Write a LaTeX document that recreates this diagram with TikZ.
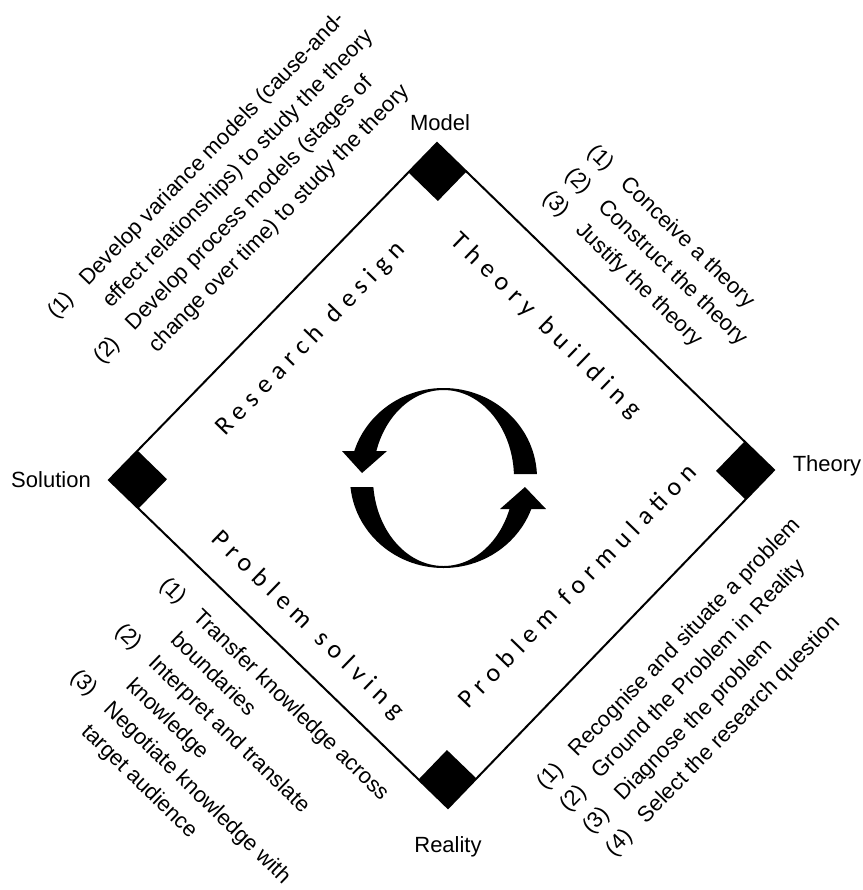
\documentclass[tikz,border=0pt]{standalone}
\usepackage{fontspec}
\setmainfont{Liberation Sans}
\newfontfamily\phasefont[LetterSpace=26]{Carlito}
\usetikzlibrary{calc}
\tikzset{
  cyc/edge/.style={line width=1pt, draw=black},
  cyc/corner/.style={font=\fontsize{11}{13}\selectfont, inner sep=0pt},
  cyc/phase/.style={font=\phasefont\fontsize{13}{15}\selectfont, inner sep=0pt},
  cyc/list/.style={font=\fontsize{11}{16}\selectfont, inner sep=0pt, anchor=base west}
}
\newcommand{\itm}[1]{\makebox[23pt][l]{(#1)}}
\newcommand{\cont}{\hspace*{23pt}}
\newcommand{\wgap}{\hspace{7pt}}

\begin{document}
\begin{tikzpicture}[x=0.5pt,y=-0.5pt]
  \useasboundingbox (0,0) rectangle (863,890);
  \coordinate (M) at (437,143);
  \coordinate (T) at (774,470);
  \coordinate (R) at (448,808);
  \coordinate (S) at (109,480);
  \coordinate (O) at (442,475.5);
  \draw[cyc/edge] (M) -- (T) -- (R) -- (S) -- cycle;
  \foreach \c/\p/\q in {M/S/T, T/M/R, R/T/S, S/R/M}
    \fill ($(\c)!20.5pt!(\p)$) -- (\c) -- ($(\c)!20.5pt!(\q)$) -- ($(\c)!29pt!(O)$) -- cycle;

  \node[cyc/corner] (model) at (440,123) {Model};
  \node[cyc/corner] (theory) at (827,466) {Theory};
  \node[cyc/corner] (reality) at (448,847) {Reality};
  \node[cyc/corner] (solution) at (51,480) {Solution};

  \node[cyc/phase,rotate=45.9] (design) at (311,339) {Research\wgap design};
  \node[cyc/phase,rotate=-44.1] (building) at (545.5,326) {Theory\wgap building};
  \node[cyc/phase,rotate=-44.1] (solving) at (307.5,625) {Problem\wgap solving};
  \node[cyc/phase,rotate=45.9] (formulation) at (577,585.5) {Problem\wgap formulation};

  \node[cyc/list,rotate=45.9] (designlist) at (56,320) {\begin{tabular}[t]{@{}l@{}}
    \itm{1}Develop variance models (cause-and-\\
    \cont effect relationships) to study the theory\\
    \itm{2}Develop process models (stages of\\
    \cont change over time) to study the theory
  \end{tabular}};
  \node[cyc/list,rotate=-44.1] (buildinglist) at (586,153) {\begin{tabular}[t]{@{}l@{}}
    \itm{1}Conceive a theory\\
    \itm{2}Construct the theory\\
    \itm{3}Justify the theory
  \end{tabular}};
  \node[cyc/list,rotate=-44.1] (solvinglist) at (158.5,586) {\begin{tabular}[t]{@{}l@{}}
    \itm{1}Transfer knowledge across\\
    \cont boundaries\\
    \itm{2}Interpret and translate\\
    \cont knowledge\\
    \itm{3}Negotiate knowledge with\\
    \cont target audience
  \end{tabular}};
  \node[cyc/list,rotate=45.9] (formulationlist) at (545.5,790.5) {\begin{tabular}[t]{@{}l@{}}
    \itm{1}Recognise and situate a problem\\
    \itm{2}Ground the Problem in Reality\\
    \itm{3}Diagnose the problem\\
    \itm{4}Select the research question
  \end{tabular}};

  \begin{scope}
    \clip (330,380) rectangle (443.5,451)
          (443.5,380) rectangle (560,474)
          (330,487) rectangle (443.5,580)
          (443.5,509) rectangle (560,580);
    \fill[even odd rule] (443.5,478) ellipse [x radius=93.5, y radius=90]
                         (443.5,478) ellipse [x radius=70.5, y radius=88];
  \end{scope}
  \fill (342,451) -- (387,451) -- (362,473) -- cycle;
  \fill (500,509) -- (546,509) -- (525,487) -- cycle;
\end{tikzpicture}
\end{document}
